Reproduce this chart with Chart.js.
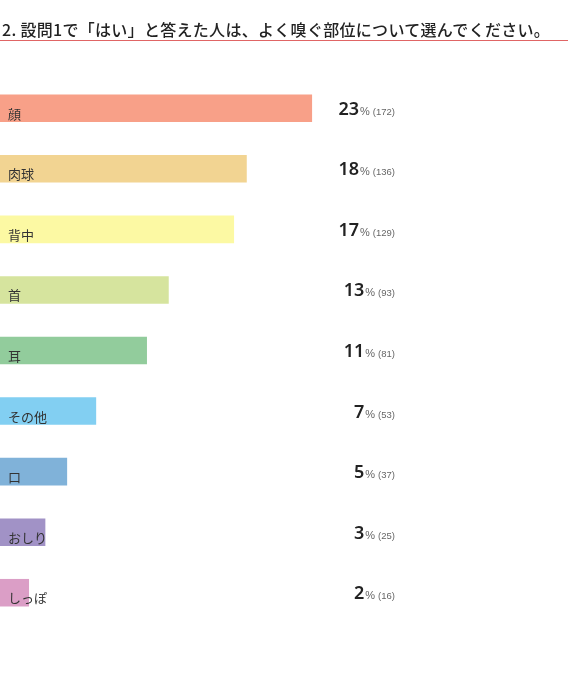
<!DOCTYPE html>
<html>
<head>
<meta charset="utf-8">
<script src="https://cdn.jsdelivr.net/npm/chart.js@4"></script>
<style>
  html, body { margin: 0; padding: 0; background: #fff; }
  #wrap { position: relative; width: 577px; height: 700px; overflow: hidden; }
  #title {
    position: absolute; left: 2px; top: 18px; width: 570px;
    font-family: "Noto Sans CJK JP", "Noto Sans", sans-serif;
    font-size: 16px; font-weight: 500; color: #222; line-height: 22px;
    letter-spacing: 0.3px; white-space: nowrap;
  }
  #rule { position: absolute; left: 0; top: 40px; width: 568px; height: 0; border-top: 1.5px solid #e06565; }
  canvas { position: absolute; left: 0; top: 0; }
</style>
</head>
<body>
<div id="wrap">
  <canvas id="c" width="577" height="700"></canvas>
  <div id="title">2. 設問1で「はい」と答えた人は、よく嗅ぐ部位について選んでください。</div>
  <div id="rule"></div>
</div>
<script>
const categories = ["顔", "肉球", "背中", "首", "耳", "その他", "口", "おしり", "しっぽ"];
const percents = [23, 18, 17, 13, 11, 7, 5, 3, 2];
const counts = [172, 136, 129, 93, 81, 53, 37, 25, 16];
const barColors = ["#F8A088", "#F2D492", "#FCF9A3", "#D6E49E", "#92CC9C", "#82CFF2", "#80B2D9", "#A192C6", "#DB9EC6"];

const labelPlugin = {
  id: "barLabels",
  afterDatasetsDraw(chart) {
    const ctx = chart.ctx;
    const meta = chart.getDatasetMeta(0);
    ctx.save();
    meta.data.forEach((bar, i) => {
      const cy = bar.y;
      // category label inside bar
      ctx.font = '13px "Noto Sans CJK JP", sans-serif';
      ctx.fillStyle = "#333";
      ctx.textAlign = "left";
      ctx.textBaseline = "alphabetic";
      ctx.fillText(categories[i], bar.base + 8, cy + 10.5);
      // right value label, right-aligned
      const right = 395;
      const base = cy + 6.5;
      ctx.textAlign = "right";
      ctx.font = '9.5px "Liberation Sans", sans-serif';
      ctx.fillStyle = "#666";
      const cnt = "(" + counts[i] + ")";
      ctx.fillText(cnt, right, base);
      const cw = ctx.measureText(cnt).width;
      ctx.font = '11px "Liberation Sans", sans-serif';
      const pctX = right - cw - 3;
      ctx.fillText("%", pctX, base);
      const pw = ctx.measureText("%").width;
      ctx.font = '600 18px "Noto Sans", sans-serif';
      ctx.fillStyle = "#222";
      ctx.fillText(String(percents[i]), pctX - pw - 1, base);
    });
    ctx.restore();
  }
};

new Chart(document.getElementById("c"), {
  type: "bar",
  data: {
    labels: categories,
    datasets: [{
      data: counts,
      backgroundColor: barColors,
      borderWidth: 0,
      barPercentage: 0.455,
      categoryPercentage: 1
    }]
  },
  options: {
    indexAxis: "y",
    responsive: false,
    animation: false,
    layout: { padding: { top: 78, bottom: 77, left: 0, right: 0 } },
    plugins: { legend: { display: false }, tooltip: { enabled: false }, title: { display: false } },
    scales: {
      x: { display: false, min: 0, max: 318, grid: { display: false } },
      y: { display: false, grid: { display: false } }
    }
  },
  plugins: [labelPlugin]
});
</script>
</body>
</html>
